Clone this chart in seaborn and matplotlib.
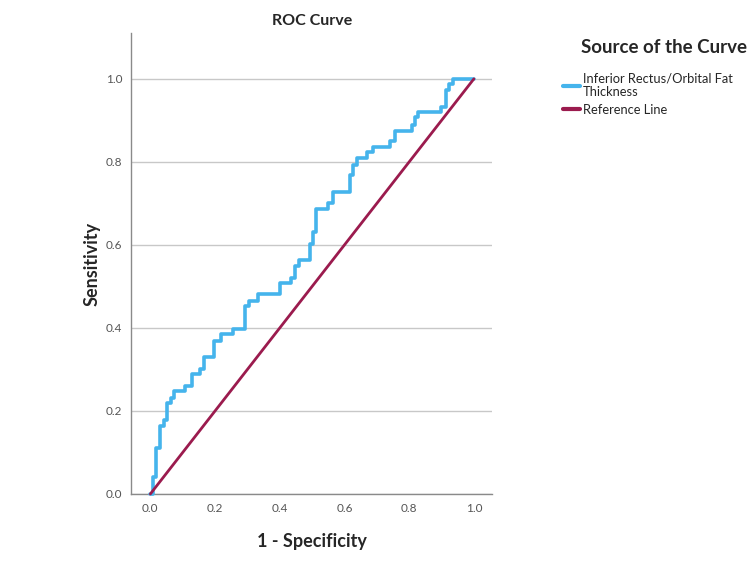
import matplotlib
matplotlib.use("Agg")
import matplotlib.pyplot as plt
import seaborn as sns
import pandas as pd

# ROC operating points (top corner of each vertical step)
fpr = [0.0, 0.008, 0.018, 0.031, 0.041, 0.053, 0.064, 0.074, 0.108, 0.129,
       0.152, 0.165, 0.198, 0.219, 0.255, 0.293, 0.306, 0.334, 0.401, 0.435,
       0.447, 0.458, 0.494, 0.504, 0.512, 0.550, 0.566, 0.617, 0.626, 0.640,
       0.669, 0.689, 0.741, 0.756, 0.808, 0.818, 0.828, 0.897, 0.914, 0.924,
       0.936, 1.0]
tpr = [0.0, 0.042, 0.110, 0.164, 0.178, 0.220, 0.232, 0.248, 0.260, 0.289,
       0.300, 0.329, 0.369, 0.385, 0.397, 0.452, 0.466, 0.482, 0.508, 0.521,
       0.549, 0.564, 0.602, 0.632, 0.686, 0.700, 0.727, 0.769, 0.793, 0.810,
       0.825, 0.835, 0.850, 0.875, 0.889, 0.909, 0.921, 0.933, 0.973, 0.988,
       1.0, 1.0]
ref_x = [0.0, 1.0]
ref_y = [0.0, 1.0]

curve_label = "Inferior Rectus/Orbital Fat\nThickness"
ref_label = "Reference Line"

sns.set_style("white")
plt.rcParams['font.family'] = ['Lato', 'DejaVu Sans']

roc = pd.DataFrame({"fpr": fpr, "tpr": tpr})
ref = pd.DataFrame({"x": ref_x, "y": ref_y})

fig = plt.figure(figsize=(7.5, 5.63), dpi=100)
ax = fig.add_axes([0.175, 0.1226, 0.481, 0.8184])

sns.lineplot(data=roc, x="fpr", y="tpr", ax=ax, sort=False, estimator=None,
             drawstyle="steps-post", color="#45B4EC", linewidth=2.6,
             label=curve_label, clip_on=False, zorder=3)
sns.lineplot(data=ref, x="x", y="y", ax=ax, sort=False, estimator=None,
             color="#9B1B4E", linewidth=2.0, label=ref_label, clip_on=False, zorder=4)

ax.set_xlim(-0.059, 1.056)
ax.set_ylim(0, 1.11)
ax.set_xticks([0.0, 0.2, 0.4, 0.6, 0.8, 1.0])
ax.set_yticks([0.0, 0.2, 0.4, 0.6, 0.8, 1.0])
ax.set_xticklabels([f"{v:.1f}" for v in ax.get_xticks()])
ax.set_yticklabels([f"{v:.1f}" for v in ax.get_yticks()])
ax.tick_params(axis="both", labelsize=8.5, colors="#555555", length=3, width=0.8)
ax.yaxis.grid(True, color="#C8C8C8", linewidth=1.0)
ax.xaxis.grid(False)
for s in ["top", "right"]:
    ax.spines[s].set_visible(False)
for s in ["left", "bottom"]:
    ax.spines[s].set_color("#8A8A8A")
    ax.spines[s].set_linewidth(1.0)

ax.set_title("ROC Curve", fontsize=11.5, fontweight="bold", pad=6)
ax.set_xlabel("1 - Specificity", fontsize=13, fontweight="bold", labelpad=14)
ax.set_ylabel("Sensitivity", fontsize=13, fontweight="bold", labelpad=4)

# legend title drawn separately so the gap below it can match
fig.text(0.885, 0.915, "Source of the Curve", fontsize=13.5, fontweight="bold",
         ha="center", va="center")
leg = ax.legend(loc="upper left", bbox_to_anchor=(0.751, 0.872),
                bbox_transform=fig.transFigure, frameon=False, fontsize=9.3,
                handlelength=1.3, handletextpad=0.2, labelspacing=0.45,
                borderaxespad=0, borderpad=0)
for line in leg.get_lines():
    line.set_linewidth(3)

fig.savefig("out.png", dpi=100)
